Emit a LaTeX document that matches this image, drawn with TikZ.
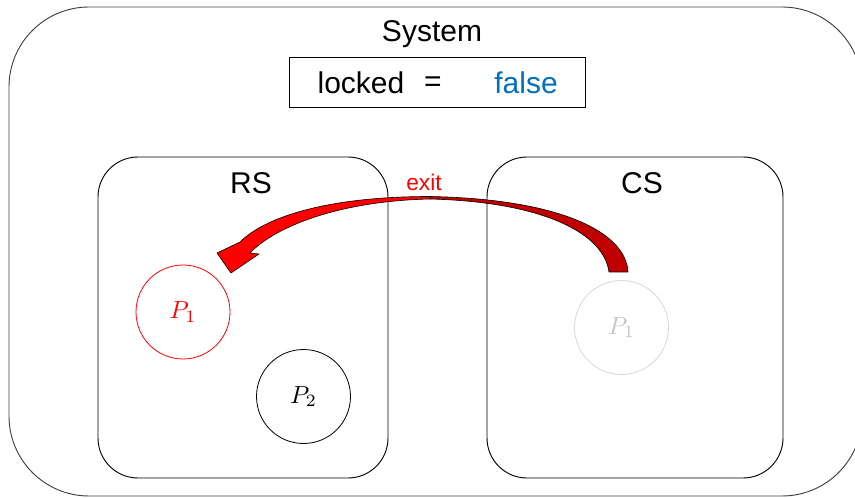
\RequirePackage{fix-cm}
\documentclass[tikz,border=0pt]{standalone}
\usepackage{fontspec}
\setmainfont{Liberation Sans}
\definecolor{falseblue}{HTML}{0070C0}
\definecolor{backred}{HTML}{C00000}
\definecolor{ghostline}{HTML}{D6D6D6}
\definecolor{ghosttext}{HTML}{C4C4C4}
\definecolor{framegrey}{HTML}{404040}
\tikzset{
  bigtxt/.style={font=\fontsize{22.5}{27}\selectfont, inner sep=0pt},
  region/.style={draw=black, line width=0.7pt, rounded corners=30pt, inner sep=0pt},
  proc/.style={circle, draw, line width=0.6pt, minimum size=70.5pt, inner sep=0pt},
  arrowedge/.style={draw=black, line width=0.45pt, line join=round}
}
\newcommand{\plabel}[1]{\scalebox{1.85}{$P_{#1}$}}
\begin{document}
\begin{tikzpicture}[x=0.75pt,y=-0.75pt]
\useasboundingbox (0,0) rectangle (855,498);
\clip (0,0) rectangle (855,498);
% outer system frame
\node[draw=framegrey, line width=0.7pt, rounded corners=60pt, inner sep=0pt,
      minimum width=639.75pt, minimum height=366.75pt] (sys) at (435.5,251.5) {};
\node[bigtxt] (systxt) at (432,34) {System};
% locked box
\node[draw=black, line width=0.7pt, inner sep=0pt, minimum width=222pt, minimum height=37.5pt] (lockbox) at (437.5,82.5) {};
\node[bigtxt] (locked) at (361,83) {locked};
\node[bigtxt] (eq) at (433,84) {=};
\node[bigtxt, text=falseblue] (falsetxt) at (526,83) {false};
% RS and CS regions
\node[region, minimum width=217.5pt, minimum height=240.75pt] (rs) at (243,317.5) {};
\node[region, minimum width=222pt, minimum height=240.75pt] (cs) at (635,317.5) {};
\node[bigtxt] (rstxt) at (251,183) {RS};
\node[bigtxt] (cstxt) at (642,183) {CS};
% processes
\node[proc, draw=red, text=red] (p1) at (183,312) {\plabel{1}};
\node[proc, draw=black] (p2) at (303.5,396.5) {\plabel{2}};
\node[proc, draw=ghostline, text=ghosttext] (p1ghost) at (621.5,327.5) {\plabel{1}};
% exit label
\node[font=\fontsize{17}{20}\selectfont, text=red, inner sep=0pt] (exittxt) at (424,182) {exit};
% curved exit arrow: back (dark) part
\path[arrowedge, fill=backred]
  (628,272) .. controls (626,232) and (560,199) .. (430,196.5)
  -- (430,199) .. controls (545,202) and (604,234) .. (609,272) -- cycle;
% front (bright) part with head
\path[arrowedge, fill=red]
  (430,196.5) .. controls (330,196.5) and (266,216) .. (240,242)
  -- (217,253) -- (231,273) -- (259,254) -- (250,253)
  .. controls (276,226) and (340,201) .. (430,199) -- cycle;
\end{tikzpicture}
\end{document}
